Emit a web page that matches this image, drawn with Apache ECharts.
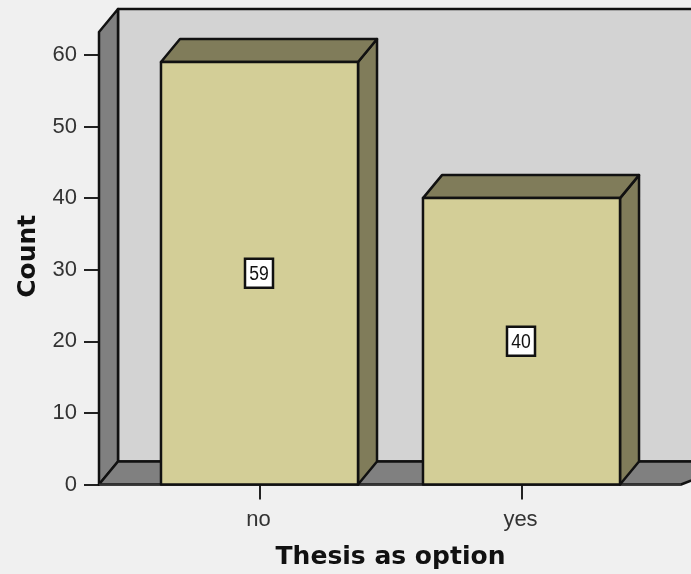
<!DOCTYPE html>
<html>
<head>
<meta charset="utf-8">
<style>html,body{margin:0;padding:0;background:#f0f0f0}#c{width:691px;height:574px;filter:blur(0.5px)}</style>
<script src="https://cdn.jsdelivr.net/npm/echarts@6/dist/echarts.min.js"></script>
</head>
<body>
<div id="c"></div>
<script>
var categories = ['no', 'yes'];
var counts = [59, 40];
var yTicks = [0, 10, 20, 30, 40, 50, 60];
var yMax = 63.2;
var xTitle = 'Thesis as option';
var yTitle = 'Count';

var DX = 19, DY = 23;
var EDGE = '#111', WALL = '#d3d3d3', SIDE = '#808080', FRONT = '#d3ce97', SHADE = '#807c5a';

function poly(points, fill) {
  return {type: 'polygon', shape: {points: points},
    style: {fill: fill, stroke: EDGE, lineWidth: 2.5, lineJoin: 'round'}};
}

function renderWalls(params) {
  var cs = params.coordSys;
  var l = cs.x - 29.5, r = cs.x + cs.width + 28.5, t = cs.y, b = cs.y + cs.height;
  return {type: 'group', children: [
    poly([[l + DX, t - DY], [r + DX + 40, t - DY], [r + DX + 40, b - DY], [l + DX, b - DY]], WALL),
    poly([[l, t], [l + DX, t - DY], [l + DX, b - DY], [l, b]], SIDE),
    poly([[l, b], [l + DX, b - DY], [r + DX + 40, b - DY], [r, b]], SIDE),
    {type: 'line', shape: {x1: l, y1: b, x2: r, y2: b}, style: {stroke: '#333', lineWidth: 2}}
  ]};
}

function renderBar(params, api) {
  var cat = api.value(0), val = api.value(1);
  var base = api.coord([cat, 0]), top = api.coord([cat, val]), mid = api.coord([cat, val / 2]);
  var w = api.size([1, 0])[0] * 0.752;
  var x0 = base[0] - w / 2, x1 = base[0] + w / 2, y0 = base[1], y1 = top[1];
  var bw = 28, bh = 29;
  return {type: 'group', children: [
    poly([[x1, y0], [x1, y1], [x1 + DX, y1 - DY], [x1 + DX, y0 - DY]], SHADE),
    poly([[x0, y1], [x0 + DX, y1 - DY], [x1 + DX, y1 - DY], [x1, y1]], SHADE),
    poly([[x0, y0], [x0, y1], [x1, y1], [x1, y0]], FRONT),
    {type: 'rect', shape: {x: mid[0] - bw / 2 - 0.5, y: mid[1] - bh / 2, width: bw, height: bh},
      style: {fill: '#fff', stroke: EDGE, lineWidth: 2.5}},
    {type: 'text', x: mid[0] - 0.5, y: mid[1] + 1, scaleX: 0.88,
      style: {text: String(val), fill: '#111', align: 'center', verticalAlign: 'middle',
        font: '20px "Liberation Sans", sans-serif'}}
  ]};
}

var chart = echarts.init(document.getElementById('c'));
chart.setOption({
  animation: false,
  backgroundColor: '#f0f0f0',
  grid: {left: 128.5, width: 524, top: 32, height: 452.5, outerBoundsMode: 'none'},
  xAxis: {
    type: 'category', data: categories,
    name: xTitle, nameLocation: 'middle', nameGap: 60,
    nameTextStyle: {fontFamily: 'DejaVu Sans', fontWeight: 'bold', fontSize: 25, color: '#111'},
    axisLine: {show: false},
    axisTick: {show: true, alignWithLabel: true, length: 15, lineStyle: {color: '#222', width: 2}},
    axisLabel: {fontFamily: 'Liberation Sans', fontSize: 22, color: '#333', margin: 24, padding: [0, 2, 0, 0]}
  },
  yAxis: {
    type: 'value', min: 0, max: yMax, offset: 29.5,
    name: yTitle, nameLocation: 'middle', nameGap: 58, nameRotate: 90,
    nameTextStyle: {fontFamily: 'DejaVu Sans', fontWeight: 'bold', fontSize: 25, color: '#111', padding: [0, 0, 0, 4]},
    splitLine: {show: false},
    axisLine: {show: false},
    axisTick: {show: true, length: 15, customValues: yTicks, lineStyle: {color: '#222', width: 2}},
    axisLabel: {fontFamily: 'Liberation Sans', fontSize: 22, color: '#333', margin: 22, padding: [3, 0, 0, 0], customValues: yTicks}
  },
  series: [
    {type: 'custom', renderItem: renderWalls, data: [[0, 0]], silent: true, z: 1},
    {type: 'custom', renderItem: renderBar, z: 2,
      data: categories.map(function (c, i) { return [i, counts[i]]; }),
      encode: {x: 0, y: 1}}
  ]
});
</script>
</body>
</html>
